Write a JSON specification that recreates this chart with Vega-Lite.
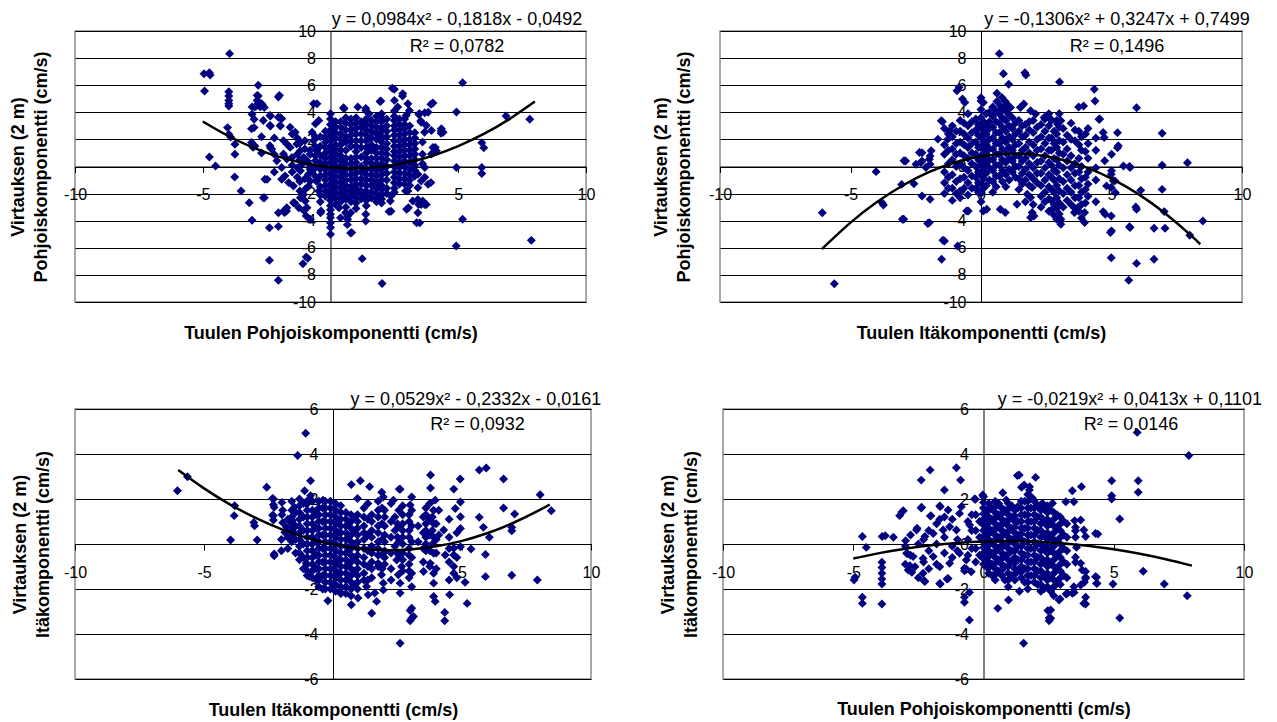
{
"$schema": "https://vega.github.io/schema/vega-lite/v6.json",
"background": "white",
"padding": {"left": 8, "top": 10, "right": 5, "bottom": 0},
"config": {
  "view": {"stroke": "#8c8c8c", "strokeWidth": 1.5},
  "font": "Liberation Sans",
  "axis": {"labelFont": "Liberation Sans", "labelFontSize": 16, "labelColor": "#000", "tickColor": "#000", "domainColor": "#000", "gridColor": "#000", "gridOpacity": 1, "gridWidth": 1, "tickWidth": 1, "domainWidth": 1, "titleFont": "Liberation Sans", "titleFontSize": 18, "titleFontWeight": "bold", "titleColor": "#000", "labelOverlap": false, "labelFlush": false, "labelBound": false}
},
"datasets": {
"tl": [
{"x":-3.95,"y":8.33},{"x":-4.95,"y":6.85},{"x":-4.74,"y":6.92},{"x":-4.71,"y":6.75},{"x":-4.93,"y":5.57},{"x":-3.98,"y":5.52},{"x":-3.98,"y":5.2},{"x":-3.98,"y":4.88},{"x":-3.98,"y":4.64},{"x":-3.98,"y":4.47},{"x":-2.83,"y":6.0},{"x":-2.83,"y":5.2},{"x":-3.07,"y":4.4},{"x":-2.91,"y":4.47},{"x":-2.75,"y":4.4},{"x":-2.59,"y":4.35},{"x":-2.67,"y":4.55},{"x":-3.07,"y":3.85},{"x":-2.99,"y":3.48},{"x":-2.99,"y":2.87},{"x":-2.35,"y":3.73},{"x":-2.35,"y":2.99},{"x":-2.04,"y":5.13},{"x":-1.96,"y":3.6},{"x":-1.96,"y":2.99},{"x":-4.03,"y":2.87},{"x":-3.98,"y":2.38},{"x":-3.91,"y":2.18},{"x":-3.74,"y":1.64},{"x":-3.74,"y":0.9},{"x":-4.74,"y":0.7},{"x":-4.5,"y":0.04},{"x":-3.75,"y":-0.77},{"x":-3.5,"y":-1.81},{"x":-3.18,"y":-2.67},{"x":-3.07,"y":-3.97},{"x":-2.59,"y":-2.3},{"x":-2.48,"y":-0.95},{"x":-2.35,"y":1.39},{"x":-2.96,"y":1.51},{"x":-2.39,"y":-4.52},{"x":-2.04,"y":-4.42},{"x":-2.39,"y":-6.92},{"x":-2.04,"y":-8.4},{"x":-1.08,"y":-7.17},{"x":-0.95,"y":-6.68},{"x":-0.89,"y":-6.78},{"x":1.24,"y":-6.8},{"x":2.02,"y":-8.64},
{"x":4.93,"y":4.02},{"x":5.17,"y":6.19},{"x":4.93,"y":-0.08},{"x":5.17,"y":-3.9},{"x":4.92,"y":-5.87},{"x":5.92,"y":1.76},{"x":6.0,"y":1.39},{"x":5.92,"y":-0.08},{"x":5.92,"y":-0.52},{"x":6.87,"y":3.73},{"x":7.8,"y":3.48},{"x":7.86,"y":-5.45},{"x":4.33,"y":2.62},{"x":4.33,"y":2.45},{"x":4.1,"y":1.4},{"x":3.93,"y":4.59},{"x":3.69,"y":3.97},{"x":2.82,"y":5.2},{"x":2.42,"y":5.77},{"x":3.45,"y":3.85},{"x":3.53,"y":3.36},{"x":3.61,"y":-2.55},{"x":3.69,"y":-2.8},{"x":3.45,"y":-2.8},{"x":3.37,"y":-4.15},{"x":2.94,"y":-1.8},{"x":2.98,"y":-3.16},{"x":3.05,"y":-3.04},{"x":2.29,"y":-3.33},{"x":3.93,"y":-1.19},{"x":3.69,"y":-0.08},{"x":3.69,"y":-0.8},{"x":1.38,"y":-4.02},{"x":1.38,"y":-3.53},{"x":0.83,"y":-4.88},{"x":0.67,"y":-3.65},{"x":0.67,"y":-3.9},
{"x":0,"y":-5.0},{"x":0,"y":-4.5},{"x":0,"y":-4.15},{"x":0,"y":-3.78},{"x":0,"y":-3.53},{"x":0,"y":-3.2},{"x":0,"y":-2.9},{"x":0,"y":-2.5},{"x":0,"y":-2.1},{"x":0,"y":-1.7},{"x":0,"y":-1.3},{"x":0,"y":-0.9},{"x":0,"y":-0.5},{"x":0,"y":-0.1},{"x":0,"y":0.3},{"x":0,"y":0.7},{"x":0,"y":1.1},{"x":0,"y":1.5},{"x":0,"y":1.9},{"x":0,"y":2.3},{"x":0,"y":2.7},{"x":0,"y":3.1},{"x":0,"y":3.5},{"x":0,"y":3.89},
{"x":-0.37,"y":-3.28},{"x":-0.56,"y":-1.07},{"x":-1.24,"y":-3.04},{"x":-1.05,"y":-3.24},{"x":-1.72,"y":-3.28},{"x":-1.8,"y":-3.4},{"x":-1.4,"y":-2.7},{"x":-0.95,"y":-3.65},{"x":0.51,"y":4.34},{"x":1.07,"y":4.39},{"x":1.38,"y":4.29},{"x":1.94,"y":4.79},{"x":2.5,"y":5.7},
{"x":-2.87,"y":5.25},{"x":-2.87,"y":4.88},{"x":-2.96,"y":4.39},{"x":-2.7,"y":4.63},{"x":-2.0,"y":5.25},{"x":-2.37,"y":3.77},{"x":-2.04,"y":3.64},{"x":-1.91,"y":3.52},{"x":-2.37,"y":3.02},{"x":-1.97,"y":3.02},{"x":-2.63,"y":3.39},{"x":-1.58,"y":2.9},{"x":-1.38,"y":2.53},{"x":-3.09,"y":2.78},{"x":-3.09,"y":1.78},{"x":-3.03,"y":1.41},{"x":-2.37,"y":1.54},{"x":-2.3,"y":1.29},{"x":-1.84,"y":1.91},{"x":-1.71,"y":1.66},{"x":-1.58,"y":1.41},{"x":-1.84,"y":0.92},{"x":-1.71,"y":0.55},{"x":-1.51,"y":0.67},{"x":-1.32,"y":1.66},{"x":-1.18,"y":1.16},{"x":-1.05,"y":0.67},{"x":-2.1,"y":0.42},{"x":-1.91,"y":-0.07},{"x":-1.78,"y":-0.69},{"x":-1.64,"y":-1.19},{"x":-1.91,"y":-0.94},{"x":-1.45,"y":-1.44},{"x":-2.57,"y":-0.94},{"x":-2.63,"y":-2.3},{"x":-2.04,"y":-3.42},{"x":-1.84,"y":-3.3},{"x":-1.71,"y":-3.05},{"x":-1.45,"y":-2.68},{"x":-1.18,"y":-2.3},{"x":-1.05,"y":-2.06},{"x":-0.99,"y":-2.55},{"x":-0.92,"y":-3.05},{"x":-0.79,"y":-3.91},{"x":-0.39,"y":-3.42},{"x":-0.59,"y":3.15},{"x":-0.46,"y":3.39},{"x":-0.53,"y":4.63},{"x":-0.66,"y":4.63},{"x":-0.72,"y":2.53},{"x":-0.66,"y":1.91},{"x":-0.53,"y":1.16},{"x":-0.59,"y":0.42},{"x":-0.72,"y":-0.32},{"x":-0.79,"y":-1.07},{"x":-0.86,"y":-1.44},{"x":-0.53,"y":-1.07},{"x":-0.46,"y":-1.81},{"x":-1.12,"y":0.17},{"x":-0.92,"y":0.42},{"x":-0.86,"y":-0.57},{"x":-1.18,"y":-0.32},{"x":0.53,"y":4.26},{"x":1.38,"y":4.14},{"x":1.51,"y":3.89},{"x":1.97,"y":4.83},{"x":2.83,"y":5.38},{"x":2.5,"y":4.88},{"x":2.63,"y":4.39},{"x":3.03,"y":4.63},{"x":3.09,"y":4.14},{"x":2.96,"y":3.77},{"x":3.49,"y":3.89},{"x":3.82,"y":4.01},{"x":4.01,"y":4.68},{"x":3.55,"y":3.27},{"x":3.75,"y":3.02},{"x":3.95,"y":2.65},{"x":3.68,"y":2.53},{"x":4.34,"y":2.78},{"x":4.41,"y":2.53},{"x":4.01,"y":1.41},{"x":4.14,"y":1.16},{"x":3.95,"y":0.92},{"x":3.42,"y":-0.57},{"x":3.55,"y":-1.07},{"x":3.42,"y":-1.56},{"x":3.82,"y":-1.31},{"x":3.03,"y":-1.81},{"x":3.22,"y":-2.55},{"x":3.42,"y":-2.43},{"x":3.55,"y":-2.8},{"x":3.42,"y":-3.42},{"x":3.75,"y":-2.8},{"x":3.49,"y":-4.16},{"x":2.37,"y":-3.3},{"x":2.34,"y":-2.55},{"x":2.37,"y":-2.18},{"x":0.79,"y":-4.91},{"x":0.66,"y":-4.29},{"x":0.39,"y":-3.79},{"x":0.59,"y":-3.42},{"x":0.79,"y":-3.42},{"x":0.33,"y":-3.05},
{"x":-0.2,"y":2.6},{"x":-0.2,"y":1.8},{"x":-0.2,"y":1.0},{"x":-0.2,"y":0.2},{"x":-0.2,"y":-0.6},{"x":-0.2,"y":-1.4},{"x":-0.2,"y":-2.2},{"x":-0.4,"y":2.2},{"x":-0.4,"y":0.8},{"x":-0.4,"y":-0.2},{"x":-0.4,"y":-2.6},
{"x":0.2,"y":3.3},{"x":0.2,"y":2.5},{"x":0.2,"y":1.6},{"x":0.2,"y":0.9},{"x":0.2,"y":0.1},{"x":0.2,"y":-0.7},{"x":0.2,"y":-1.5},{"x":0.2,"y":-2.3},{"x":0.2,"y":-2.8},
{"x":0.4,"y":2.9},{"x":0.4,"y":2.0},{"x":0.4,"y":1.2},{"x":0.4,"y":0.4},{"x":0.4,"y":-0.4},{"x":0.4,"y":-1.2},{"x":0.4,"y":-2.0},{"x":0.4,"y":-2.6},
{"x":0.6,"y":3.6},{"x":0.6,"y":2.7},{"x":0.6,"y":1.8},{"x":0.6,"y":0.6},{"x":0.6,"y":-0.2},{"x":0.6,"y":-1.0},{"x":0.6,"y":-1.8},{"x":0.6,"y":-2.4},{"x":0.6,"y":-3.0},
{"x":0.8,"y":3.1},{"x":0.8,"y":2.3},{"x":0.8,"y":1.5},{"x":0.8,"y":0.2},{"x":0.8,"y":-0.6},{"x":0.8,"y":-1.5},{"x":0.8,"y":-2.2},
{"x":1.0,"y":3.6},{"x":1.0,"y":2.8},{"x":1.0,"y":1.9},{"x":1.0,"y":1.1},{"x":1.0,"y":0.3},{"x":1.0,"y":-0.5},{"x":1.0,"y":-1.3},{"x":1.0,"y":-2.0},{"x":1.0,"y":-2.7},{"x":1.0,"y":-3.1},
{"x":1.2,"y":3.3},{"x":1.2,"y":2.4},{"x":1.2,"y":1.4},{"x":1.2,"y":0.0},{"x":1.2,"y":-0.9},{"x":1.2,"y":-1.8},{"x":1.2,"y":-2.4},
{"x":1.4,"y":3.5},{"x":1.4,"y":2.7},{"x":1.4,"y":1.9},{"x":1.4,"y":1.0},{"x":1.4,"y":0.3},{"x":1.4,"y":-0.6},{"x":1.4,"y":-1.4},{"x":1.4,"y":-2.2},{"x":1.4,"y":-2.9},
{"x":1.6,"y":3.0},{"x":1.6,"y":2.1},{"x":1.6,"y":1.2},{"x":1.6,"y":-0.2},{"x":1.6,"y":-1.0},{"x":1.6,"y":-1.9},
{"x":1.8,"y":3.7},{"x":1.8,"y":2.9},{"x":1.8,"y":2.0},{"x":1.8,"y":1.4},{"x":1.8,"y":0.6},{"x":1.8,"y":-0.3},{"x":1.8,"y":-1.2},{"x":1.8,"y":-2.0},{"x":1.8,"y":-2.6},
{"x":2.0,"y":3.9},{"x":2.0,"y":3.3},{"x":2.0,"y":2.6},{"x":2.0,"y":1.8},{"x":2.0,"y":1.0},{"x":2.0,"y":0.2},{"x":2.0,"y":-0.6},{"x":2.0,"y":-1.4},{"x":2.0,"y":-2.1},{"x":2.0,"y":-2.7},
{"x":2.2,"y":3.0},{"x":2.2,"y":2.2},{"x":2.2,"y":1.3},{"x":2.2,"y":0.5},{"x":2.2,"y":-0.5},{"x":2.2,"y":-1.6},
{"x":2.5,"y":4.1},{"x":2.5,"y":3.4},{"x":2.5,"y":2.7},{"x":2.5,"y":1.9},{"x":2.5,"y":1.1},{"x":2.5,"y":0.4},{"x":2.5,"y":-0.4},{"x":2.5,"y":-1.2},{"x":2.5,"y":-1.9},
{"x":2.7,"y":3.1},{"x":2.7,"y":2.3},{"x":2.7,"y":1.5},{"x":2.7,"y":0.7},{"x":2.7,"y":-0.1},{"x":2.7,"y":-0.9},
{"x":2.9,"y":3.5},{"x":2.9,"y":2.8},{"x":2.9,"y":2.0},{"x":2.9,"y":1.2},{"x":2.9,"y":0.4},{"x":2.9,"y":-0.5},{"x":2.9,"y":-1.3},
{"x":3.1,"y":2.5},{"x":3.1,"y":1.6},{"x":3.1,"y":0.8},{"x":3.1,"y":-0.2},{"x":3.1,"y":-1.0},
{"x":3.3,"y":2.1},{"x":3.3,"y":1.3},{"x":3.3,"y":0.5},{"x":3.3,"y":-0.3},{"x":3.6,"y":1.8},{"x":3.6,"y":0.9},{"x":3.6,"y":0.2},
{"x":-1.0,"y":1.9},{"x":-1.0,"y":1.3},{"x":-1.0,"y":-0.9},{"x":-1.0,"y":-1.7},{"x":-1.3,"y":0.9},{"x":-1.3,"y":-0.1},{"x":-1.3,"y":-0.8},{"x":-1.3,"y":2.1},{"x":-1.5,"y":2.4},{"x":-1.5,"y":0.1},{"x":-1.5,"y":-0.4},{"x":-2.2,"y":2.1},{"x":-2.2,"y":0.9},{"x":-2.2,"y":-0.4},{"x":-2.7,"y":1.0},{"x":-2.7,"y":2.2},
{"x":-0.2,"y":2.2},{"x":-0.2,"y":1.4},{"x":-0.2,"y":0.6},{"x":-0.2,"y":-0.2},{"x":-0.2,"y":-1.0},{"x":-0.2,"y":-1.8},
{"x":0.2,"y":2.9},{"x":0.2,"y":2.1},{"x":0.2,"y":1.3},{"x":0.2,"y":0.5},{"x":0.2,"y":-0.3},{"x":0.2,"y":-1.1},{"x":0.2,"y":-1.9},
{"x":0.4,"y":3.3},{"x":0.4,"y":2.4},{"x":0.4,"y":1.6},{"x":0.4,"y":0.8},{"x":0.4,"y":0.0},{"x":0.4,"y":-0.8},{"x":0.4,"y":-1.6},{"x":0.4,"y":-2.3},
{"x":0.6,"y":3.2},{"x":0.6,"y":2.2},{"x":0.6,"y":1.2},{"x":0.6,"y":0.2},{"x":0.6,"y":-0.6},{"x":0.6,"y":-1.4},{"x":0.6,"y":-2.1},
{"x":0.8,"y":3.5},{"x":0.8,"y":2.7},{"x":0.8,"y":1.9},{"x":0.8,"y":0.6},{"x":0.8,"y":-0.2},{"x":0.8,"y":-1.0},{"x":0.8,"y":-1.8},{"x":0.8,"y":-2.6},
{"x":1.0,"y":3.2},{"x":1.0,"y":2.4},{"x":1.0,"y":1.5},{"x":1.0,"y":0.7},{"x":1.0,"y":-0.1},{"x":1.0,"y":-0.9},{"x":1.0,"y":-1.6},{"x":1.0,"y":-2.3},
{"x":1.2,"y":2.9},{"x":1.2,"y":1.9},{"x":1.2,"y":0.7},{"x":1.2,"y":-0.4},{"x":1.2,"y":-1.3},{"x":1.2,"y":-2.0},
{"x":1.4,"y":3.1},{"x":1.4,"y":2.3},{"x":1.4,"y":1.4},{"x":1.4,"y":0.6},{"x":1.4,"y":-0.2},{"x":1.4,"y":-1.0},{"x":1.4,"y":-1.8},{"x":1.4,"y":-2.5},
{"x":1.6,"y":3.4},{"x":1.6,"y":2.6},{"x":1.6,"y":1.6},{"x":1.6,"y":0.6},{"x":1.6,"y":0.2},{"x":1.6,"y":-0.6},{"x":1.6,"y":-1.4},{"x":1.6,"y":-2.3},
{"x":1.8,"y":3.3},{"x":1.8,"y":2.4},{"x":1.8,"y":1.0},{"x":1.8,"y":0.2},{"x":1.8,"y":-0.7},{"x":1.8,"y":-1.6},{"x":1.8,"y":-2.3},
{"x":2.0,"y":3.6},{"x":2.0,"y":2.9},{"x":2.0,"y":2.2},{"x":2.0,"y":1.4},{"x":2.0,"y":0.6},{"x":2.0,"y":-0.2},{"x":2.0,"y":-1.0},{"x":2.0,"y":-1.7},{"x":2.0,"y":-2.4},
{"x":2.2,"y":3.5},{"x":2.2,"y":2.6},{"x":2.2,"y":1.7},{"x":2.2,"y":0.9},{"x":2.2,"y":0.0},{"x":2.2,"y":-1.0},{"x":2.2,"y":-2.0},
{"x":2.5,"y":3.7},{"x":2.5,"y":3.0},{"x":2.5,"y":2.3},{"x":2.5,"y":1.5},{"x":2.5,"y":0.8},{"x":2.5,"y":0.0},{"x":2.5,"y":-0.8},{"x":2.5,"y":-1.6},
{"x":2.7,"y":3.5},{"x":2.7,"y":2.7},{"x":2.7,"y":1.9},{"x":2.7,"y":1.1},{"x":2.7,"y":0.3},{"x":2.7,"y":-0.5},{"x":2.7,"y":-1.3},
{"x":2.9,"y":3.1},{"x":2.9,"y":2.4},{"x":2.9,"y":1.6},{"x":2.9,"y":0.8},{"x":2.9,"y":0.0},{"x":2.9,"y":-0.9},
{"x":3.1,"y":3.0},{"x":3.1,"y":2.0},{"x":3.1,"y":1.2},{"x":3.1,"y":0.3},{"x":3.1,"y":-0.6},{"x":3.1,"y":-1.4},
{"x":3.3,"y":2.5},{"x":3.3,"y":1.7},{"x":3.3,"y":0.9},{"x":3.3,"y":0.1},{"x":3.3,"y":-0.7},
{"x":-0.4,"y":1.5},{"x":-0.4,"y":0.3},{"x":-0.4,"y":-0.7},{"x":-0.4,"y":-1.5},{"x":-0.4,"y":-2.1},{"x":-0.6,"y":0.8},{"x":-0.6,"y":-0.1},{"x":-0.6,"y":-0.7},{"x":-0.6,"y":1.5},{"x":-0.6,"y":2.2},{"x":-0.8,"y":1.2},{"x":-0.8,"y":0.1},{"x":-0.8,"y":0.9},{"x":-0.8,"y":-0.2},{"x":-1.2,"y":1.7},{"x":-1.2,"y":0.5},{"x":-1.2,"y":-1.1},{"x":-1.2,"y":-1.8}
],
"tlfit": [{"x":-5,"y":3.32},{"x":-4,"y":2.25},{"x":-3,"y":1.38},{"x":-2,"y":0.708},{"x":-1,"y":0.231},{"x":0,"y":-0.049},{"x":1,"y":-0.133},{"x":2,"y":-0.019},{"x":3,"y":0.291},{"x":4,"y":0.798},{"x":5,"y":1.502},{"x":6,"y":2.402},{"x":7,"y":3.5},{"x":8,"y":4.794}],
"tleq": [{"eq":"y = 0,0984x² - 0,1818x - 0,0492","r2":"R² = 0,0782"}],
"tr": [
{"x":-6.08,"y":-3.41},{"x":-5.62,"y":-8.65},{"x":-4.02,"y":-0.38},{"x":-3.79,"y":-2.67},{"x":-3.74,"y":-2.84},{"x":-2.96,"y":-3.9},{"x":-2.89,"y":0.41},{"x":-2.57,"y":-1.27},{"x":-3.04,"y":-1.32},{"x":-2.26,"y":1.02},{"x":-2.26,"y":0.41},{"x":-1.95,"y":0.77},{"x":-1.95,"y":0.16},{"x":-2.26,"y":-2.18},{"x":-1.95,"y":-2.42},{"x":-1.98,"y":-4.14},{"x":-1.48,"y":3.31},{"x":-1.4,"y":-5.5},{"x":-1.51,"y":-6.85},{"x":-0.89,"y":-5.87},{"x":-0.55,"y":-3.28},{"x":0,"y":5.08},{"x":0,"y":4.84},{"x":0.7,"y":8.33},{"x":0.86,"y":6.85},{"x":1.06,"y":6.07},{"x":1.68,"y":6.92},{"x":1.72,"y":6.75},{"x":3.01,"y":6.24},{"x":4.34,"y":5.7},{"x":4.37,"y":4.84},{"x":3.74,"y":4.39},{"x":3.93,"y":4.47},{"x":4.52,"y":3.48},{"x":5.23,"y":2.5},{"x":5.96,"y":4.34},{"x":6.94,"y":2.45},{"x":6.94,"y":0.09},{"x":7.91,"y":0.28},{"x":5.46,"y":0.04},{"x":5.69,"y":0.01},{"x":6.12,"y":-1.76},{"x":6.94,"y":-1.69},{"x":5.93,"y":-2.99},{"x":5.96,"y":-3.16},{"x":7.02,"y":-3.33},{"x":8.5,"y":-4.02},{"x":8.0,"y":-5.08},{"x":5.69,"y":-4.44},{"x":6.63,"y":-4.56},{"x":7.05,"y":-4.56},{"x":4.96,"y":-4.88},{"x":4.99,"y":-6.73},{"x":5.96,"y":-7.15},{"x":6.63,"y":-6.85},{"x":5.66,"y":-8.4},{"x":4.68,"y":-3.33},{"x":4.99,"y":-3.65},{"x":4.76,"y":-3.53},{"x":5.23,"y":1.39},{"x":4.99,"y":-0.58},{"x":5.07,"y":-1.06},{"x":4.99,"y":-1.55},{"x":5.15,"y":-1.93},
{"x":-0.92,"y":5.59},{"x":-0.84,"y":5.84},{"x":-0.71,"y":4.98},{"x":-0.62,"y":4.73},{"x":0.09,"y":4.73},{"x":0.61,"y":5.4},{"x":0.8,"y":5.1},{"x":0.93,"y":4.8},{"x":0.61,"y":4.8},{"x":0.76,"y":4.45},{"x":1.0,"y":4.6},{"x":1.13,"y":4.35},{"x":0.67,"y":4.05},{"x":1.51,"y":4.36},{"x":1.64,"y":4.61},{"x":1.9,"y":4.11},{"x":2.09,"y":3.87},{"x":2.42,"y":3.62},{"x":2.67,"y":3.5},{"x":2.93,"y":3.13},{"x":3.06,"y":3.37},{"x":4.55,"y":3.5},{"x":4.68,"y":2.51},{"x":4.72,"y":2.14},{"x":5.26,"y":1.53},{"x":5.0,"y":0.91},{"x":4.74,"y":0.42},{"x":5.0,"y":-0.32},{"x":5.13,"y":-1.06},{"x":4.81,"y":-1.43},{"x":5.71,"y":-0.07},{"x":-1.52,"y":3.37},{"x":-1.27,"y":2.02},{"x":-1.65,"y":2.02},{"x":-1.2,"y":2.64},{"x":-2.36,"y":1.03},{"x":-2.3,"y":0.3},{"x":-2.49,"y":0.17},{"x":-2.11,"y":-0.07},{"x":-1.98,"y":0.54},{"x":-1.91,"y":1.16},{"x":-2.95,"y":0.42},{"x":-3.01,"y":-3.89},{"x":-2.04,"y":-4.21},{"x":-1.46,"y":-5.44},{"x":-0.49,"y":-3.28},{"x":0.09,"y":-3.28},{"x":0.22,"y":-3.15},{"x":0.74,"y":-3.15},{"x":0.93,"y":-3.4},{"x":1.38,"y":-2.78},{"x":1.77,"y":-2.04},{"x":1.9,"y":-2.29},{"x":1.96,"y":-1.55},{"x":1.96,"y":-3.4},{"x":2.03,"y":-3.65},{"x":1.9,"y":-3.77},{"x":3.06,"y":-4.26},{"x":3.06,"y":-3.89},{"x":3.58,"y":-3.4},{"x":3.97,"y":-4.14},{"x":3.97,"y":-3.4},{"x":3.71,"y":-3.03},{"x":5.0,"y":-4.75},{"x":5.71,"y":-4.51},
{"x":-1.4,"y":2.8},{"x":-1.4,"y":1.6},{"x":-1.4,"y":0.9},{"x":-1.4,"y":-0.4},{"x":-1.4,"y":-1.2},{"x":-1.4,"y":-2.0},
{"x":-1.1,"y":3.0},{"x":-1.1,"y":2.2},{"x":-1.1,"y":1.3},{"x":-1.1,"y":0.5},{"x":-1.1,"y":-0.6},{"x":-1.1,"y":-1.6},{"x":-1.1,"y":-2.5},
{"x":-0.8,"y":3.4},{"x":-0.8,"y":2.6},{"x":-0.8,"y":1.8},{"x":-0.8,"y":1.0},{"x":-0.8,"y":0.2},{"x":-0.8,"y":-0.9},{"x":-0.8,"y":-1.8},{"x":-0.8,"y":-2.3},
{"x":-0.5,"y":3.9},{"x":-0.5,"y":3.0},{"x":-0.5,"y":2.1},{"x":-0.5,"y":1.4},{"x":-0.5,"y":0.6},{"x":-0.5,"y":-0.3},{"x":-0.5,"y":-1.2},{"x":-0.5,"y":-2.1},
{"x":-0.2,"y":3.5},{"x":-0.2,"y":2.7},{"x":-0.2,"y":1.8},{"x":-0.2,"y":0.9},{"x":-0.2,"y":0.0},{"x":-0.2,"y":-0.8},{"x":-0.2,"y":-1.6},
{"x":0,"y":4.2},{"x":0,"y":3.6},{"x":0,"y":2.9},{"x":0,"y":2.2},{"x":0,"y":1.5},{"x":0,"y":0.8},{"x":0,"y":0.1},{"x":0,"y":-0.6},{"x":0,"y":-1.3},{"x":0,"y":-2.0},{"x":0,"y":-2.6},
{"x":0.2,"y":3.9},{"x":0.2,"y":3.1},{"x":0.2,"y":2.4},{"x":0.2,"y":1.6},{"x":0.2,"y":0.9},{"x":0.2,"y":0.2},{"x":0.2,"y":-0.5},{"x":0.2,"y":-1.4},
{"x":0.45,"y":4.4},{"x":0.45,"y":3.7},{"x":0.45,"y":2.9},{"x":0.45,"y":2.1},{"x":0.45,"y":1.3},{"x":0.45,"y":0.5},{"x":0.45,"y":-0.3},{"x":0.45,"y":-1.1},{"x":0.45,"y":-1.9},
{"x":0.7,"y":3.9},{"x":0.7,"y":3.2},{"x":0.7,"y":2.5},{"x":0.7,"y":1.7},{"x":0.7,"y":0.9},{"x":0.7,"y":0.1},{"x":0.7,"y":-0.7},
{"x":0.95,"y":4.1},{"x":0.95,"y":3.4},{"x":0.95,"y":2.6},{"x":0.95,"y":1.8},{"x":0.95,"y":1.0},{"x":0.95,"y":0.3},{"x":0.95,"y":-0.6},{"x":0.95,"y":-1.5},
{"x":1.2,"y":3.6},{"x":1.2,"y":2.8},{"x":1.2,"y":2.0},{"x":1.2,"y":1.2},{"x":1.2,"y":0.4},{"x":1.2,"y":-0.4},
{"x":1.45,"y":3.4},{"x":1.45,"y":2.6},{"x":1.45,"y":1.7},{"x":1.45,"y":0.8},{"x":1.45,"y":0.0},{"x":1.45,"y":-0.9},{"x":1.45,"y":-1.7},
{"x":1.7,"y":3.1},{"x":1.7,"y":2.3},{"x":1.7,"y":1.4},{"x":1.7,"y":0.6},{"x":1.7,"y":-0.2},{"x":1.7,"y":-1.0},{"x":1.7,"y":-2.6},
{"x":2.0,"y":3.4},{"x":2.0,"y":2.5},{"x":2.0,"y":1.6},{"x":2.0,"y":0.8},{"x":2.0,"y":-0.1},{"x":2.0,"y":-0.9},{"x":2.0,"y":-2.8},
{"x":2.3,"y":3.1},{"x":2.3,"y":2.2},{"x":2.3,"y":1.3},{"x":2.3,"y":0.4},{"x":2.3,"y":-0.5},{"x":2.3,"y":-1.4},{"x":2.3,"y":-2.2},{"x":2.3,"y":-3.0},
{"x":2.6,"y":3.9},{"x":2.6,"y":3.0},{"x":2.6,"y":2.1},{"x":2.6,"y":1.2},{"x":2.6,"y":0.3},{"x":2.6,"y":-0.6},{"x":2.6,"y":-1.5},{"x":2.6,"y":-2.4},{"x":2.6,"y":-3.3},
{"x":2.8,"y":2.6},{"x":2.8,"y":1.7},{"x":2.8,"y":0.6},{"x":2.8,"y":-0.3},{"x":2.8,"y":-1.0},{"x":2.8,"y":-1.9},{"x":2.8,"y":-2.8},{"x":2.8,"y":-3.6},
{"x":3.0,"y":3.9},{"x":3.0,"y":2.9},{"x":3.0,"y":1.9},{"x":3.0,"y":1.0},{"x":3.0,"y":0.1},{"x":3.0,"y":-0.9},{"x":3.0,"y":-1.8},{"x":3.0,"y":-2.7},{"x":3.0,"y":-3.5},
{"x":3.3,"y":2.3},{"x":3.3,"y":1.3},{"x":3.3,"y":0.4},{"x":3.3,"y":-0.6},{"x":3.3,"y":-1.6},{"x":3.3,"y":-2.5},
{"x":3.6,"y":2.7},{"x":3.6,"y":1.9},{"x":3.6,"y":0.2},{"x":3.6,"y":-0.5},{"x":3.6,"y":-1.4},{"x":3.6,"y":-2.3},{"x":3.6,"y":-3.1},
{"x":3.85,"y":2.2},{"x":3.85,"y":1.2},{"x":3.85,"y":0.0},{"x":3.85,"y":-0.9},{"x":3.85,"y":-1.9},{"x":3.85,"y":-2.8},{"x":3.85,"y":-3.8},
{"x":4.1,"y":2.8},{"x":4.1,"y":1.7},{"x":4.1,"y":0.6},{"x":4.1,"y":-0.4},{"x":4.1,"y":-1.3},{"x":4.1,"y":-2.2},
{"x":4.4,"y":2.1},{"x":4.4,"y":1.2},{"x":4.4,"y":-0.1},{"x":4.4,"y":-1.0},{"x":4.4,"y":-2.6},
{"x":-1.25,"y":2.4},{"x":-1.25,"y":1.2},{"x":-1.25,"y":0.2},{"x":-1.25,"y":-0.8},{"x":-1.25,"y":-1.6},
{"x":-0.95,"y":2.6},{"x":-0.95,"y":1.7},{"x":-0.95,"y":0.9},{"x":-0.95,"y":0.0},{"x":-0.95,"y":-1.1},{"x":-0.95,"y":-2.0},
{"x":-0.65,"y":3.2},{"x":-0.65,"y":2.4},{"x":-0.65,"y":1.6},{"x":-0.65,"y":0.8},{"x":-0.65,"y":-0.1},{"x":-0.65,"y":-0.8},{"x":-0.65,"y":-1.6},
{"x":-0.35,"y":3.3},{"x":-0.35,"y":2.5},{"x":-0.35,"y":1.7},{"x":-0.35,"y":1.0},{"x":-0.35,"y":0.2},{"x":-0.35,"y":-0.7},{"x":-0.35,"y":-1.6},
{"x":-0.1,"y":3.1},{"x":-0.1,"y":2.3},{"x":-0.1,"y":1.4},{"x":-0.1,"y":0.5},{"x":-0.1,"y":-0.4},{"x":-0.1,"y":-1.2},{"x":-0.1,"y":-1.9},
{"x":0.1,"y":3.3},{"x":0.1,"y":2.6},{"x":0.1,"y":1.9},{"x":0.1,"y":1.2},{"x":0.1,"y":0.5},{"x":0.1,"y":-0.2},{"x":0.1,"y":-0.9},{"x":0.1,"y":-1.6},
{"x":0.32,"y":4.0},{"x":0.32,"y":3.3},{"x":0.32,"y":2.8},{"x":0.32,"y":2.0},{"x":0.32,"y":1.3},{"x":0.32,"y":0.5},{"x":0.32,"y":-0.1},{"x":0.32,"y":-1.0},
{"x":0.58,"y":4.1},{"x":0.58,"y":3.3},{"x":0.58,"y":2.5},{"x":0.58,"y":1.7},{"x":0.58,"y":0.9},{"x":0.58,"y":0.1},{"x":0.58,"y":-0.7},{"x":0.58,"y":-1.5},
{"x":0.82,"y":4.3},{"x":0.82,"y":3.6},{"x":0.82,"y":2.9},{"x":0.82,"y":2.1},{"x":0.82,"y":1.3},{"x":0.82,"y":0.5},{"x":0.82,"y":-0.3},{"x":0.82,"y":-1.1},
{"x":1.08,"y":3.8},{"x":1.08,"y":3.0},{"x":1.08,"y":2.2},{"x":1.08,"y":1.4},{"x":1.08,"y":0.6},{"x":1.08,"y":-0.2},{"x":1.08,"y":-1.0},
{"x":1.32,"y":3.2},{"x":1.32,"y":2.4},{"x":1.32,"y":1.6},{"x":1.32,"y":0.8},{"x":1.32,"y":0.0},{"x":1.32,"y":-0.8},
{"x":1.58,"y":3.0},{"x":1.58,"y":2.2},{"x":1.58,"y":1.2},{"x":1.58,"y":0.4},{"x":1.58,"y":-0.5},{"x":1.58,"y":-1.3},
{"x":1.85,"y":3.3},{"x":1.85,"y":2.7},{"x":1.85,"y":1.8},{"x":1.85,"y":1.0},{"x":1.85,"y":0.2},{"x":1.85,"y":-0.6},{"x":1.85,"y":-1.4},
{"x":2.15,"y":2.9},{"x":2.15,"y":2.0},{"x":2.15,"y":1.2},{"x":2.15,"y":0.3},{"x":2.15,"y":-0.5},{"x":2.15,"y":-1.2},
{"x":2.45,"y":3.5},{"x":2.45,"y":2.6},{"x":2.45,"y":1.7},{"x":2.45,"y":0.8},{"x":2.45,"y":-0.1},{"x":2.45,"y":-1.0},{"x":2.45,"y":-1.9},{"x":2.45,"y":-2.6},
{"x":2.7,"y":3.4},{"x":2.7,"y":2.1},{"x":2.7,"y":1.2},{"x":2.7,"y":0.1},{"x":2.7,"y":-0.8},{"x":2.7,"y":-1.7},{"x":2.7,"y":-2.5},{"x":2.7,"y":-3.2},
{"x":2.9,"y":3.4},{"x":2.9,"y":2.4},{"x":2.9,"y":1.4},{"x":2.9,"y":0.5},{"x":2.9,"y":-0.4},{"x":2.9,"y":-1.4},{"x":2.9,"y":-2.3},{"x":2.9,"y":-3.1},{"x":2.9,"y":-3.9},
{"x":3.15,"y":2.8},{"x":3.15,"y":1.8},{"x":3.15,"y":0.9},{"x":3.15,"y":-0.1},{"x":3.15,"y":-1.1},{"x":3.15,"y":-2.0},{"x":3.15,"y":-3.0},
{"x":3.45,"y":3.2},{"x":3.45,"y":2.0},{"x":3.45,"y":0.8},{"x":3.45,"y":-0.1},{"x":3.45,"y":-1.0},{"x":3.45,"y":-1.9},{"x":3.45,"y":-2.8},
{"x":3.75,"y":2.6},{"x":3.75,"y":1.6},{"x":3.75,"y":0.6},{"x":3.75,"y":-0.4},{"x":3.75,"y":-1.4},{"x":3.75,"y":-2.3},{"x":3.75,"y":-3.3},
{"x":4.0,"y":2.4},{"x":4.0,"y":1.1},{"x":4.0,"y":-0.8},{"x":4.0,"y":-1.7},{"x":4.0,"y":-2.7}
],
"trfit": [{"x":-6.1,"y":-6.091},{"x":-5,"y":-4.139},{"x":-4,"y":-2.638},{"x":-3,"y":-1.4},{"x":-2,"y":-0.422},{"x":-1,"y":0.295},{"x":0,"y":0.75},{"x":1,"y":0.944},{"x":2,"y":0.877},{"x":3,"y":0.549},{"x":4,"y":-0.041},{"x":5,"y":-0.892},{"x":6,"y":-2.003},{"x":7,"y":-3.377},{"x":8,"y":-5.011},{"x":8.4,"y":-5.738}],
"treq": [{"eq":"y = -0,1306x² + 0,3247x + 0,7499","r2":"R² = 0,1496"}],
"bl": [
{"x":-6.03,"y":2.37},{"x":-5.64,"y":2.99},{"x":-3.81,"y":1.7},{"x":-3.83,"y":1.26},{"x":-3.97,"y":0.18},{"x":-3.07,"y":0.96},{"x":-3.04,"y":0.81},{"x":-2.94,"y":0.18},{"x":-2.57,"y":2.52},{"x":-2.31,"y":2.0},{"x":-2.31,"y":1.75},{"x":-2.28,"y":1.63},{"x":-2.31,"y":1.26},{"x":-2.31,"y":1.07},{"x":-2.28,"y":-0.44},{"x":-2.28,"y":-0.52},{"x":-1.98,"y":1.85},{"x":-1.95,"y":1.5},{"x":-1.98,"y":1.3},{"x":-1.95,"y":0.95},{"x":-1.8,"y":0.74},{"x":-1.87,"y":0.52},{"x":-1.5,"y":1.63},{"x":-1.57,"y":1.04},{"x":-1.5,"y":0.74},{"x":-1.53,"y":0.52},{"x":-1.37,"y":3.93},{"x":-1.06,"y":4.92},{"x":-0.87,"y":2.81},{"x":-1.1,"y":2.37},{"x":-0.87,"y":2.15},{"x":-1.02,"y":1.78},{"x":-0.71,"y":1.41},{"x":-0.2,"y":-2.52},{"x":0.71,"y":-2.7},{"x":1.5,"y":-3.08},{"x":2.6,"y":-4.41},{"x":2.99,"y":-2.96},{"x":2.99,"y":-3.41},{"x":3.05,"y":-3.3},{"x":4.33,"y":-3.04},{"x":4.33,"y":-3.41},{"x":4.52,"y":-2.25},{"x":5.2,"y":-2.64},{"x":5.12,"y":-1.7},{"x":5.91,"y":-1.45},{"x":6.93,"y":-1.39},{"x":7.92,"y":-1.6},{"x":5.91,"y":-0.47},{"x":5.83,"y":0.74},{"x":6.06,"y":0.3},{"x":6.93,"y":0.74},{"x":6.93,"y":0.59},{"x":6.61,"y":1.6},{"x":7.04,"y":1.33},{"x":8.03,"y":2.19},{"x":8.46,"y":1.48},{"x":5.67,"y":3.29},{"x":5.94,"y":3.38},{"x":6.61,"y":2.89},{"x":4.93,"y":2.89},{"x":4.68,"y":2.44},{"x":3.78,"y":3.07},{"x":3.78,"y":2.49},{"x":5.67,"y":1.19},{"x":5.35,"y":-0.22},{"x":0.71,"y":2.64},{"x":1.06,"y":2.81},{"x":1.42,"y":2.55},{"x":2.57,"y":2.44},{"x":1.89,"y":2.3},
{"x":-2.34,"y":2.02},{"x":-2.34,"y":1.28},{"x":-0.97,"y":1.95},{"x":-0.39,"y":1.95},{"x":0.95,"y":2.02},{"x":1.95,"y":2.09},{"x":2.34,"y":1.95},{"x":2.6,"y":2.43},{"x":3.05,"y":2.09},{"x":2.99,"y":1.73},{"x":3.96,"y":1.95},{"x":3.9,"y":1.5},{"x":4.94,"y":1.87},{"x":4.74,"y":1.58},{"x":4.94,"y":1.21},{"x":4.94,"y":0.69},{"x":4.29,"y":0.62},{"x":4.35,"y":-0.49},{"x":4.68,"y":-0.19},{"x":4.68,"y":-0.49},{"x":4.68,"y":-1.0},{"x":4.68,"y":-1.3},{"x":4.94,"y":-0.12},{"x":3.9,"y":-1.74},{"x":3.9,"y":-2.33},{"x":3.96,"y":-2.55},{"x":3.9,"y":-1.3},{"x":3.77,"y":-0.86},{"x":3.9,"y":-0.41},{"x":3.51,"y":-1.22},{"x":3.05,"y":-2.85},{"x":3.12,"y":-3.22},{"x":2.6,"y":-2.18},{"x":2.6,"y":-1.74},{"x":2.53,"y":-1.37},{"x":2.66,"y":-1.0},{"x":2.47,"y":-0.71},{"x":1.95,"y":-2.04},{"x":1.95,"y":-1.74},{"x":1.88,"y":-1.37},{"x":1.75,"y":-0.86},{"x":1.95,"y":-0.41},{"x":1.69,"y":-2.55},{"x":1.62,"y":-2.18},{"x":1.36,"y":-2.26},{"x":1.3,"y":-1.89},{"x":0.97,"y":-2.4},{"x":0.32,"y":-2.18},{"x":0,"y":-1.96},{"x":-0.91,"y":-1.45},{"x":-1.04,"y":-0.86},{"x":-0.78,"y":-1.15},
{"x":-1.6,"y":1.9},{"x":-1.6,"y":1.2},{"x":-1.6,"y":0.6},{"x":-1.6,"y":0.1},
{"x":-1.3,"y":1.7},{"x":-1.3,"y":1.1},{"x":-1.3,"y":0.5},{"x":-1.3,"y":-0.1},{"x":-1.3,"y":-0.7},
{"x":-1.0,"y":1.5},{"x":-1.0,"y":0.9},{"x":-1.0,"y":0.3},{"x":-1.0,"y":-0.3},{"x":-1.0,"y":-0.9},{"x":-1.0,"y":-1.4},
{"x":-0.8,"y":1.9},{"x":-0.8,"y":1.2},{"x":-0.8,"y":0.6},{"x":-0.8,"y":0.0},{"x":-0.8,"y":-0.6},{"x":-0.8,"y":-1.2},
{"x":-0.55,"y":1.6},{"x":-0.55,"y":1.0},{"x":-0.55,"y":0.4},{"x":-0.55,"y":-0.2},{"x":-0.55,"y":-0.8},{"x":-0.55,"y":-1.4},{"x":-0.55,"y":-1.9},
{"x":-0.3,"y":1.9},{"x":-0.3,"y":1.3},{"x":-0.3,"y":0.7},{"x":-0.3,"y":0.1},{"x":-0.3,"y":-0.5},{"x":-0.3,"y":-1.1},{"x":-0.3,"y":-1.7},
{"x":-0.1,"y":1.6},{"x":-0.1,"y":1.0},{"x":-0.1,"y":0.4},{"x":-0.1,"y":-0.2},{"x":-0.1,"y":-0.8},{"x":-0.1,"y":-1.4},{"x":-0.1,"y":-2.0},
{"x":0.1,"y":1.8},{"x":0.1,"y":1.2},{"x":0.1,"y":0.6},{"x":0.1,"y":0.0},{"x":0.1,"y":-0.6},{"x":0.1,"y":-1.2},{"x":0.1,"y":-1.8},
{"x":0.3,"y":1.4},{"x":0.3,"y":0.8},{"x":0.3,"y":0.2},{"x":0.3,"y":-0.4},{"x":0.3,"y":-1.0},{"x":0.3,"y":-1.6},{"x":0.3,"y":-2.2},
{"x":0.5,"y":1.1},{"x":0.5,"y":0.5},{"x":0.5,"y":-0.1},{"x":0.5,"y":-0.7},{"x":0.5,"y":-1.3},{"x":0.5,"y":-1.9},
{"x":0.7,"y":1.3},{"x":0.7,"y":0.7},{"x":0.7,"y":0.1},{"x":0.7,"y":-0.5},{"x":0.7,"y":-1.1},{"x":0.7,"y":-1.7},{"x":0.7,"y":-2.3},
{"x":0.95,"y":1.0},{"x":0.95,"y":0.4},{"x":0.95,"y":-0.2},{"x":0.95,"y":-0.8},{"x":0.95,"y":-1.4},{"x":0.95,"y":-2.0},
{"x":1.2,"y":1.6},{"x":1.2,"y":0.8},{"x":1.2,"y":0.2},{"x":1.2,"y":-0.6},{"x":1.2,"y":-1.3},
{"x":1.5,"y":1.3},{"x":1.5,"y":0.6},{"x":1.5,"y":-0.1},{"x":1.5,"y":-0.8},{"x":1.5,"y":-1.5},
{"x":1.75,"y":1.9},{"x":1.75,"y":1.2},{"x":1.75,"y":0.5},{"x":1.75,"y":-0.2},
{"x":2.0,"y":1.5},{"x":2.0,"y":0.8},{"x":2.0,"y":0.1},{"x":2.0,"y":-0.6},
{"x":2.4,"y":1.2},{"x":2.4,"y":0.6},{"x":2.4,"y":-0.1},
{"x":2.7,"y":1.7},{"x":2.7,"y":0.9},{"x":2.7,"y":0.3},{"x":2.7,"y":-0.4},
{"x":2.95,"y":1.3},{"x":2.95,"y":0.6},{"x":2.95,"y":-0.2},{"x":2.95,"y":-0.9},{"x":2.95,"y":-1.5},
{"x":3.3,"y":0.8},{"x":3.3,"y":0.1},{"x":3.6,"y":1.6},{"x":3.6,"y":0.9},{"x":3.6,"y":0.3},{"x":3.6,"y":-0.3},{"x":3.85,"y":1.2},{"x":3.85,"y":0.6},{"x":3.85,"y":0.0},{"x":4.1,"y":1.5},{"x":4.1,"y":0.4},
{"x":-1.6,"y":1.5},{"x":-1.6,"y":0.9},{"x":-1.6,"y":0.4},
{"x":-1.45,"y":1.4},{"x":-1.45,"y":0.8},{"x":-1.45,"y":0.2},{"x":-1.45,"y":-0.4},
{"x":-1.3,"y":2.0},{"x":-1.3,"y":1.4},{"x":-1.3,"y":0.8},{"x":-1.3,"y":0.2},{"x":-1.3,"y":-0.4},
{"x":-1.15,"y":1.8},{"x":-1.15,"y":1.2},{"x":-1.15,"y":0.6},{"x":-1.15,"y":0.0},{"x":-1.15,"y":-0.6},{"x":-1.15,"y":-1.1},
{"x":-1.0,"y":1.8},{"x":-1.0,"y":1.2},{"x":-1.0,"y":0.6},{"x":-1.0,"y":0.0},{"x":-1.0,"y":-0.6},{"x":-1.0,"y":-1.2},
{"x":-0.8,"y":1.5},{"x":-0.8,"y":0.9},{"x":-0.8,"y":0.3},{"x":-0.8,"y":-0.3},{"x":-0.8,"y":-0.9},{"x":-0.8,"y":-1.5},
{"x":-0.65,"y":1.3},{"x":-0.65,"y":0.7},{"x":-0.65,"y":0.1},{"x":-0.65,"y":-0.5},{"x":-0.65,"y":-1.1},{"x":-0.65,"y":-1.6},
{"x":-0.55,"y":1.9},{"x":-0.55,"y":1.3},{"x":-0.55,"y":0.7},{"x":-0.55,"y":0.1},{"x":-0.55,"y":-0.5},{"x":-0.55,"y":-1.1},{"x":-0.55,"y":-1.6},
{"x":-0.4,"y":1.6},{"x":-0.4,"y":1.0},{"x":-0.4,"y":0.4},{"x":-0.4,"y":-0.2},{"x":-0.4,"y":-0.8},{"x":-0.4,"y":-1.4},{"x":-0.4,"y":-2.0},
{"x":-0.3,"y":1.6},{"x":-0.3,"y":1.0},{"x":-0.3,"y":0.4},{"x":-0.3,"y":-0.2},{"x":-0.3,"y":-0.8},{"x":-0.3,"y":-1.4},{"x":-0.3,"y":-2.0},
{"x":-0.1,"y":1.9},{"x":-0.1,"y":1.3},{"x":-0.1,"y":0.7},{"x":-0.1,"y":0.1},{"x":-0.1,"y":-0.5},{"x":-0.1,"y":-1.1},{"x":-0.1,"y":-1.7},
{"x":0.1,"y":1.5},{"x":0.1,"y":0.9},{"x":0.1,"y":0.3},{"x":0.1,"y":-0.3},{"x":0.1,"y":-0.9},{"x":0.1,"y":-1.5},{"x":0.1,"y":-2.1},
{"x":0.2,"y":1.0},{"x":0.2,"y":0.5},{"x":0.2,"y":-0.7},{"x":0.2,"y":-1.3},
{"x":0.3,"y":1.7},{"x":0.3,"y":1.1},{"x":0.3,"y":0.5},{"x":0.3,"y":-0.1},{"x":0.3,"y":-0.7},{"x":0.3,"y":-1.3},{"x":0.3,"y":-1.9},
{"x":0.5,"y":1.4},{"x":0.5,"y":0.8},{"x":0.5,"y":0.2},{"x":0.5,"y":-0.4},{"x":0.5,"y":-1.0},{"x":0.5,"y":-1.6},{"x":0.5,"y":-2.2},
{"x":0.6,"y":0.9},{"x":0.6,"y":0.3},{"x":0.6,"y":-0.3},{"x":0.6,"y":-0.9},{"x":0.6,"y":-1.5},
{"x":0.7,"y":1.0},{"x":0.7,"y":0.4},{"x":0.7,"y":-0.2},{"x":0.7,"y":-0.8},{"x":0.7,"y":-1.4},{"x":0.7,"y":-2.0},
{"x":0.85,"y":1.2},{"x":0.85,"y":0.6},{"x":0.85,"y":0.0},{"x":0.85,"y":-0.6},{"x":0.85,"y":-1.2},{"x":0.85,"y":-1.8},
{"x":0.95,"y":1.3},{"x":0.95,"y":0.7},{"x":0.95,"y":0.1},{"x":0.95,"y":-0.5},{"x":0.95,"y":-1.1},{"x":0.95,"y":-1.7},
{"x":1.2,"y":1.2},{"x":1.2,"y":0.5},{"x":1.2,"y":-0.2},{"x":1.2,"y":-0.9},{"x":1.2,"y":-1.6},
{"x":1.5,"y":1.0},{"x":1.5,"y":0.3},{"x":1.5,"y":-0.4},{"x":1.5,"y":-1.1},
{"x":1.75,"y":1.5},{"x":1.75,"y":0.8},{"x":1.75,"y":0.1},{"x":1.75,"y":-0.5},{"x":1.75,"y":-1.0},
{"x":2.0,"y":1.2},{"x":2.0,"y":0.4},{"x":2.0,"y":-0.3},{"x":2.0,"y":-0.9},
{"x":2.7,"y":1.3},{"x":2.7,"y":0.6},{"x":2.7,"y":0.0},{"x":2.7,"y":-0.7},{"x":2.7,"y":-1.2},
{"x":2.95,"y":1.0},{"x":2.95,"y":0.3},{"x":2.95,"y":-0.5},{"x":2.95,"y":-1.2},
{"x":2.5,"y":0.9},{"x":2.5,"y":0.3},{"x":2.5,"y":-0.4},{"x":3.6,"y":1.3},{"x":3.6,"y":0.6},{"x":3.6,"y":0.0},{"x":3.9,"y":0.9},{"x":3.9,"y":0.3},
{"x":1.35,"y":1.8},{"x":1.35,"y":1.1},{"x":1.35,"y":0.4},{"x":1.35,"y":-0.3},{"x":1.35,"y":-1.0},{"x":1.35,"y":-1.6},
{"x":1.9,"y":1.6},{"x":1.9,"y":0.9},{"x":1.9,"y":0.2},{"x":1.9,"y":-0.5},{"x":1.9,"y":-1.1},
{"x":2.25,"y":1.8},{"x":2.25,"y":1.0},{"x":2.25,"y":0.3},{"x":2.25,"y":-0.4},{"x":2.25,"y":-1.1},{"x":2.25,"y":-1.6},
{"x":2.55,"y":1.5},{"x":2.55,"y":0.8},{"x":2.55,"y":0.1},{"x":2.55,"y":-0.5},
{"x":3.05,"y":1.5},{"x":3.05,"y":0.8},{"x":3.05,"y":0.1},{"x":3.05,"y":-0.6},{"x":3.05,"y":-1.3},{"x":3.05,"y":-1.9},
{"x":3.5,"y":1.2},{"x":3.5,"y":0.5},{"x":3.5,"y":-0.2},{"x":3.5,"y":-0.8},
{"x":3.75,"y":1.8},{"x":3.75,"y":1.1},{"x":3.75,"y":0.4},{"x":3.75,"y":-0.3},{"x":3.75,"y":-1.0},
{"x":4.0,"y":0.9},{"x":4.0,"y":0.2},{"x":4.0,"y":-0.4},{"x":4.0,"y":-1.1},
{"x":4.5,"y":1.1},{"x":4.5,"y":0.3},{"x":4.5,"y":-0.2},{"x":4.5,"y":-0.8},{"x":4.5,"y":-1.6},
{"x":4.8,"y":0.5},{"x":4.8,"y":-0.6},{"x":4.8,"y":-1.5},
{"x":-2.0,"y":0.2},{"x":-2.0,"y":-0.3},{"x":-1.75,"y":1.1},{"x":-1.75,"y":0.3},{"x":-1.75,"y":-0.2}
],
"blfit": [{"x":-6,"y":3.287},{"x":-5,"y":2.472},{"x":-4,"y":1.763},{"x":-3,"y":1.16},{"x":-2,"y":0.662},{"x":-1,"y":0.27},{"x":0,"y":-0.016},{"x":1,"y":-0.196},{"x":2,"y":-0.271},{"x":3,"y":-0.24},{"x":4,"y":-0.103},{"x":5,"y":0.14},{"x":6,"y":0.489},{"x":7,"y":0.944},{"x":8,"y":1.504},{"x":8.4,"y":1.758}],
"bleq": [{"eq":"y = 0,0529x² - 0,2332x - 0,0161","r2":"R² = 0,0932"}],
"br": [
{"x":-4.93,"y":-1.48},{"x":-4.97,"y":-1.6},{"x":-4.65,"y":0.33},{"x":-4.5,"y":-0.15},{"x":-4.65,"y":-2.37},{"x":-4.65,"y":-2.64},{"x":-3.89,"y":0.33},{"x":-3.77,"y":0.37},{"x":-3.46,"y":0.3},{"x":-3.9,"y":-0.81},{"x":-3.9,"y":-1.04},{"x":-3.9,"y":-1.3},{"x":-3.9,"y":-1.56},{"x":-3.9,"y":-1.78},{"x":-3.9,"y":-2.67},{"x":-3.22,"y":1.26},{"x":-3.14,"y":1.41},{"x":-2.99,"y":0.15},{"x":-2.91,"y":-0.44},{"x":-2.83,"y":-0.96},{"x":-2.75,"y":-1.26},{"x":-2.55,"y":0.7},{"x":-2.39,"y":2.84},{"x":-2.39,"y":1.6},{"x":-2.05,"y":3.29},{"x":-2.02,"y":1.26},{"x":-2.28,"y":-1.63},{"x":-1.66,"y":1.66},{"x":-1.66,"y":-1.78},{"x":-1.5,"y":2.4},{"x":-1.4,"y":-1.56},{"x":-1.04,"y":3.39},{"x":-0.88,"y":2.84},{"x":-0.73,"y":-1.19},{"x":-0.65,"y":-1.12},{"x":-0.73,"y":-2.59},{"x":-0.73,"y":-2.37},{"x":-0.54,"y":-3.38},{"x":-0.54,"y":-2.15},{"x":-0.34,"y":2.0},{"x":0.55,"y":-2.86},{"x":0.96,"y":-2.49},{"x":1.38,"y":-2.1},{"x":1.54,"y":-4.41},{"x":1.3,"y":3.04},{"x":1.46,"y":2.52},{"x":1.77,"y":2.55},{"x":2.0,"y":2.96},{"x":2.47,"y":-2.96},{"x":2.52,"y":-3.29},{"x":2.52,"y":-3.41},{"x":3.41,"y":2.37},{"x":3.76,"y":2.55},{"x":3.5,"y":1.04},{"x":3.53,"y":0.74},{"x":3.53,"y":0.59},{"x":3.53,"y":0.3},{"x":3.57,"y":-0.15},{"x":3.53,"y":-0.59},{"x":3.53,"y":-0.81},{"x":3.92,"y":-1.22},{"x":3.92,"y":-1.48},{"x":3.87,"y":-1.7},{"x":3.92,"y":-2.37},{"x":3.92,"y":-2.67},{"x":4.39,"y":0.44},{"x":4.34,"y":-1.48},{"x":4.34,"y":-1.75},{"x":4.92,"y":2.81},{"x":4.92,"y":2.15},{"x":4.92,"y":2.0},{"x":5.23,"y":1.11},{"x":4.97,"y":-1.78},{"x":5.23,"y":-3.29},{"x":5.9,"y":4.96},{"x":5.94,"y":2.81},{"x":5.94,"y":2.3},{"x":6.13,"y":-1.21},{"x":6.94,"y":-1.78},{"x":7.82,"y":-2.3},{"x":7.88,"y":3.93},{"x":2.94,"y":-2.44},{"x":3.17,"y":-2.22},{"x":3.48,"y":-2.15},
{"x":-3.08,"y":1.48},{"x":-2.38,"y":1.63},{"x":-2.04,"y":1.24},{"x":-1.68,"y":1.69},{"x":-1.68,"y":1.1},{"x":-1.36,"y":1.51},{"x":-0.92,"y":1.36},{"x":-0.85,"y":1.66},{"x":-2.57,"y":0.62},{"x":-2.25,"y":0.33},{"x":-1.93,"y":0.47},{"x":-1.55,"y":0.62},{"x":-1.3,"y":0.77},{"x":-1.04,"y":0.62},{"x":-0.53,"y":0.84},{"x":-2.95,"y":-0.41},{"x":-2.7,"y":-0.56},{"x":-2.89,"y":-1.16},{"x":-2.63,"y":-1.01},{"x":-2.32,"y":-0.64},{"x":-2.32,"y":-1.3},{"x":-2.25,"y":-1.67},{"x":-1.68,"y":-1.75},{"x":-1.36,"y":-1.53},{"x":-1.3,"y":-0.86},{"x":-1.68,"y":-1.01},{"x":-1.93,"y":-0.56},{"x":-0.92,"y":-0.41},{"x":-0.66,"y":-0.71},{"x":-0.73,"y":-1.08},{"x":-0.47,"y":-1.23},{"x":-0.31,"y":1.99},{"x":-0.03,"y":2.18},{"x":1.37,"y":3.07},{"x":1.56,"y":2.62},{"x":1.76,"y":2.4},{"x":0.74,"y":2.28},{"x":0.87,"y":1.96},{"x":1.31,"y":1.66},{"x":1.88,"y":2.03},{"x":2.26,"y":1.81},{"x":2.65,"y":1.81},{"x":3.16,"y":1.88},{"x":3.47,"y":1.88},{"x":3.73,"y":1.07},{"x":3.85,"y":0.62},{"x":3.92,"y":0.33},{"x":4.3,"y":0.47},{"x":3.73,"y":-0.86},{"x":3.79,"y":-1.16},{"x":3.92,"y":-1.53},{"x":3.73,"y":-1.82},{"x":3.85,"y":-2.64},{"x":4.3,"y":-1.45},{"x":4.36,"y":-1.75},{"x":2.58,"y":-2.93},{"x":2.58,"y":-3.3},{"x":2.9,"y":-2.49},{"x":3.22,"y":-2.19},{"x":3.41,"y":-2.19},{"x":3.47,"y":-1.9},
{"x":0,"y":2.1},{"x":0,"y":1.6},{"x":0,"y":1.1},{"x":0,"y":0.6},{"x":0,"y":0.1},{"x":0,"y":-0.4},{"x":0,"y":-0.9},
{"x":0.2,"y":1.8},{"x":0.2,"y":1.2},{"x":0.2,"y":0.7},{"x":0.2,"y":0.2},{"x":0.2,"y":-0.3},{"x":0.2,"y":-0.8},{"x":0.2,"y":-1.3},
{"x":0.45,"y":1.9},{"x":0.45,"y":1.4},{"x":0.45,"y":0.9},{"x":0.45,"y":0.4},{"x":0.45,"y":-0.1},{"x":0.45,"y":-0.6},{"x":0.45,"y":-1.1},{"x":0.45,"y":-1.6},
{"x":0.7,"y":1.6},{"x":0.7,"y":1.1},{"x":0.7,"y":0.6},{"x":0.7,"y":0.1},{"x":0.7,"y":-0.4},{"x":0.7,"y":-0.9},{"x":0.7,"y":-1.4},
{"x":0.95,"y":1.8},{"x":0.95,"y":1.3},{"x":0.95,"y":0.8},{"x":0.95,"y":0.3},{"x":0.95,"y":-0.2},{"x":0.95,"y":-0.7},{"x":0.95,"y":-1.3},{"x":0.95,"y":-1.9},
{"x":1.2,"y":1.5},{"x":1.2,"y":1.0},{"x":1.2,"y":0.5},{"x":1.2,"y":0.0},{"x":1.2,"y":-0.6},{"x":1.2,"y":-1.1},{"x":1.2,"y":-1.6},
{"x":1.45,"y":1.9},{"x":1.45,"y":1.3},{"x":1.45,"y":0.7},{"x":1.45,"y":0.2},{"x":1.45,"y":-0.4},{"x":1.45,"y":-1.0},{"x":1.45,"y":-1.5},
{"x":1.7,"y":2.2},{"x":1.7,"y":1.6},{"x":1.7,"y":1.0},{"x":1.7,"y":0.4},{"x":1.7,"y":-0.2},{"x":1.7,"y":-0.8},{"x":1.7,"y":-1.4},{"x":1.7,"y":-2.0},
{"x":1.95,"y":1.9},{"x":1.95,"y":1.3},{"x":1.95,"y":0.7},{"x":1.95,"y":0.1},{"x":1.95,"y":-0.5},{"x":1.95,"y":-1.1},{"x":1.95,"y":-1.7},
{"x":2.2,"y":1.5},{"x":2.2,"y":0.9},{"x":2.2,"y":0.3},{"x":2.2,"y":-0.3},{"x":2.2,"y":-0.9},{"x":2.2,"y":-1.5},{"x":2.2,"y":-2.1},
{"x":2.45,"y":1.7},{"x":2.45,"y":1.1},{"x":2.45,"y":0.5},{"x":2.45,"y":-0.1},{"x":2.45,"y":-0.7},{"x":2.45,"y":-1.3},{"x":2.45,"y":-1.9},
{"x":2.7,"y":1.4},{"x":2.7,"y":0.8},{"x":2.7,"y":0.2},{"x":2.7,"y":-0.4},{"x":2.7,"y":-1.0},{"x":2.7,"y":-1.6},{"x":2.7,"y":-2.3},
{"x":2.95,"y":1.2},{"x":2.95,"y":0.6},{"x":2.95,"y":0.0},{"x":2.95,"y":-0.6},{"x":2.95,"y":-1.2},{"x":2.95,"y":-1.8},
{"x":3.2,"y":0.9},{"x":3.2,"y":0.3},{"x":3.2,"y":-0.3},{"x":3.2,"y":-0.9},{"x":3.2,"y":-1.5},
{"x":-0.3,"y":1.3},{"x":-0.3,"y":0.6},{"x":-0.3,"y":-0.2},{"x":-0.3,"y":-0.8},{"x":-0.6,"y":1.0},{"x":-0.6,"y":0.2},{"x":-0.6,"y":-0.5},{"x":-1.0,"y":0.2},{"x":-1.0,"y":-0.3},{"x":-1.2,"y":1.1},{"x":-1.2,"y":-0.1},{"x":-1.2,"y":-0.6},{"x":-1.5,"y":0.3},{"x":-1.5,"y":-0.4},{"x":-1.5,"y":1.2},{"x":-1.8,"y":0.9},{"x":-1.8,"y":0.0},{"x":-1.8,"y":-0.9},{"x":-2.1,"y":0.6},{"x":-2.1,"y":-0.3},{"x":-2.1,"y":-1.1},{"x":-2.5,"y":0.0},{"x":-2.5,"y":-1.5},{"x":-3.0,"y":-0.9},{"x":-3.0,"y":-0.1},
{"x":0,"y":1.85},{"x":0,"y":1.35},{"x":0,"y":0.85},{"x":0,"y":0.35},{"x":0,"y":-0.15},{"x":0,"y":-0.65},
{"x":0.1,"y":1.5},{"x":0.1,"y":1.0},{"x":0.1,"y":0.5},{"x":0.1,"y":0.0},{"x":0.1,"y":-0.5},{"x":0.1,"y":-1.0},
{"x":0.2,"y":1.5},{"x":0.2,"y":0.95},{"x":0.2,"y":0.45},{"x":0.2,"y":-0.05},{"x":0.2,"y":-0.55},{"x":0.2,"y":-1.05},
{"x":0.33,"y":1.6},{"x":0.33,"y":1.1},{"x":0.33,"y":0.6},{"x":0.33,"y":0.1},{"x":0.33,"y":-0.4},{"x":0.33,"y":-0.9},{"x":0.33,"y":-1.4},
{"x":0.45,"y":1.65},{"x":0.45,"y":1.15},{"x":0.45,"y":0.65},{"x":0.45,"y":0.15},{"x":0.45,"y":-0.35},{"x":0.45,"y":-0.85},{"x":0.45,"y":-1.35},
{"x":0.58,"y":1.8},{"x":0.58,"y":1.3},{"x":0.58,"y":0.8},{"x":0.58,"y":0.3},{"x":0.58,"y":-0.2},{"x":0.58,"y":-0.7},{"x":0.58,"y":-1.2},
{"x":0.7,"y":1.35},{"x":0.7,"y":0.85},{"x":0.7,"y":0.35},{"x":0.7,"y":-0.15},{"x":0.7,"y":-0.65},{"x":0.7,"y":-1.15},
{"x":0.82,"y":1.5},{"x":0.82,"y":1.0},{"x":0.82,"y":0.5},{"x":0.82,"y":0.0},{"x":0.82,"y":-0.5},{"x":0.82,"y":-1.0},{"x":0.82,"y":-1.6},
{"x":0.95,"y":1.55},{"x":0.95,"y":1.05},{"x":0.95,"y":0.55},{"x":0.95,"y":0.05},{"x":0.95,"y":-0.45},{"x":0.95,"y":-1.0},{"x":0.95,"y":-1.6},
{"x":1.08,"y":1.7},{"x":1.08,"y":1.2},{"x":1.08,"y":0.7},{"x":1.08,"y":0.2},{"x":1.08,"y":-0.3},{"x":1.08,"y":-0.8},{"x":1.08,"y":-1.4},
{"x":1.2,"y":1.25},{"x":1.2,"y":0.75},{"x":1.2,"y":0.25},{"x":1.2,"y":-0.3},{"x":1.2,"y":-0.85},{"x":1.2,"y":-1.35},
{"x":1.32,"y":1.6},{"x":1.32,"y":1.0},{"x":1.32,"y":0.4},{"x":1.32,"y":-0.1},{"x":1.32,"y":-0.7},{"x":1.32,"y":-1.2},
{"x":1.45,"y":1.6},{"x":1.45,"y":1.0},{"x":1.45,"y":0.45},{"x":1.45,"y":-0.1},{"x":1.45,"y":-0.7},{"x":1.45,"y":-1.25},
{"x":1.58,"y":1.9},{"x":1.58,"y":1.3},{"x":1.58,"y":0.7},{"x":1.58,"y":0.1},{"x":1.58,"y":-0.5},{"x":1.58,"y":-1.1},{"x":1.58,"y":-1.7},
{"x":1.7,"y":1.9},{"x":1.7,"y":1.3},{"x":1.7,"y":0.7},{"x":1.7,"y":0.1},{"x":1.7,"y":-0.5},{"x":1.7,"y":-1.1},{"x":1.7,"y":-1.7},
{"x":1.82,"y":2.1},{"x":1.82,"y":1.6},{"x":1.82,"y":1.0},{"x":1.82,"y":0.4},{"x":1.82,"y":-0.2},{"x":1.82,"y":-0.8},{"x":1.82,"y":-1.4},
{"x":1.95,"y":1.6},{"x":1.95,"y":1.0},{"x":1.95,"y":0.4},{"x":1.95,"y":-0.2},{"x":1.95,"y":-0.8},{"x":1.95,"y":-1.4},
{"x":2.08,"y":1.7},{"x":2.08,"y":1.2},{"x":2.08,"y":0.6},{"x":2.08,"y":0.0},{"x":2.08,"y":-0.6},{"x":2.08,"y":-1.2},{"x":2.08,"y":-1.8},
{"x":2.2,"y":1.2},{"x":2.2,"y":0.6},{"x":2.2,"y":0.0},{"x":2.2,"y":-0.6},{"x":2.2,"y":-1.2},{"x":2.2,"y":-1.8},
{"x":2.32,"y":1.6},{"x":2.32,"y":1.0},{"x":2.32,"y":0.4},{"x":2.32,"y":-0.2},{"x":2.32,"y":-0.8},{"x":2.32,"y":-1.4},{"x":2.32,"y":-2.0},
{"x":2.45,"y":1.4},{"x":2.45,"y":0.8},{"x":2.45,"y":0.2},{"x":2.45,"y":-0.4},{"x":2.45,"y":-1.0},{"x":2.45,"y":-1.6},
{"x":2.58,"y":1.5},{"x":2.58,"y":0.9},{"x":2.58,"y":0.3},{"x":2.58,"y":-0.3},{"x":2.58,"y":-0.9},{"x":2.58,"y":-1.5},{"x":2.58,"y":-2.1},
{"x":2.7,"y":1.1},{"x":2.7,"y":0.5},{"x":2.7,"y":-0.1},{"x":2.7,"y":-0.7},{"x":2.7,"y":-1.3},{"x":2.7,"y":-1.9},
{"x":2.82,"y":1.3},{"x":2.82,"y":0.7},{"x":2.82,"y":0.1},{"x":2.82,"y":-0.5},{"x":2.82,"y":-1.1},{"x":2.82,"y":-1.7},
{"x":2.95,"y":0.9},{"x":2.95,"y":0.3},{"x":2.95,"y":-0.3},{"x":2.95,"y":-0.9},{"x":2.95,"y":-1.5},
{"x":3.08,"y":1.0},{"x":3.08,"y":0.4},{"x":3.08,"y":-0.2},{"x":3.08,"y":-0.8},{"x":3.08,"y":-1.4},
{"x":-0.15,"y":1.0},{"x":-0.15,"y":0.3},{"x":-0.15,"y":-0.5},{"x":-0.45,"y":0.6},{"x":-0.45,"y":-0.2},{"x":-0.45,"y":1.3},{"x":-2.3,"y":0.2},{"x":-2.3,"y":-0.8},{"x":-2.8,"y":0.4},{"x":-2.8,"y":-0.5}
],
"brfit": [{"x":-5,"y":-0.644},{"x":-4,"y":-0.406},{"x":-3,"y":-0.211},{"x":-2,"y":-0.06},{"x":-1,"y":0.047},{"x":0,"y":0.11},{"x":1,"y":0.13},{"x":2,"y":0.105},{"x":3,"y":0.037},{"x":4,"y":-0.075},{"x":5,"y":-0.231},{"x":6,"y":-0.431},{"x":7,"y":-0.674},{"x":8,"y":-0.961}],
"breq": [{"eq":"y = -0,0219x² + 0,0413x + 0,1101","r2":"R² = 0,0146"}]
},
"spacing": 47,
"vconcat": [
{"hconcat": [
 {"width": 511, "height": 271, "layer": [
  {"data": {"name": "tl"}, "mark": {"type": "point", "shape": "diamond", "filled": true, "size": 80, "color": "#000080", "opacity": 1},
   "encoding": {
    "x": {"field": "x", "type": "quantitative", "scale": {"domain": [-10, 10], "nice": false, "zero": false}, "axis": {"values": [-10, -5, 0, 5, 10], "tickCount": 30, "grid": false, "offset": -135.5, "tickSize": 6, "labelPadding": 22, "labelBaseline": "middle", "labelOverlap": false, "labelFlush": false, "labelExpr": "'' + datum.value", "title": "Tuulen Pohjoiskomponentti (cm/s)", "titleX": 255.5, "titleY": 166.5, "titleBaseline": "middle", "titleAlign": "center", "titleAngle": 0}},
    "y": {"field": "y", "type": "quantitative", "scale": {"domain": [-10, 10], "nice": false, "zero": false}, "axis": {"values": [-10, -8, -6, -4, -2, 0, 2, 4, 6, 8, 10], "tickCount": 30, "grid": true, "offset": -255.5, "tickSize": 5, "labelPadding": 10, "labelOverlap": false, "labelExpr": "'' + datum.value", "title": ["Virtauksen (2 m)", "Pohjoiskomponentti (cm/s)"], "titleX": -312.5, "titleY": 135.5, "titleAngle": -90, "titleBaseline": "middle", "titleAlign": "center", "titleLineHeight": 23}}
   }},
  {"data": {"name": "tlfit"}, "mark": {"type": "line", "color": "#000", "strokeWidth": 2.5, "interpolate": "natural"}, "encoding": {"x": {"field": "x", "type": "quantitative"}, "y": {"field": "y", "type": "quantitative"}}},
  {"data": {"name": "tleq"}, "mark": {"type": "text", "fontSize": 18, "font": "Liberation Sans", "color": "#000", "align": "center", "baseline": "middle"}, "encoding": {"x": {"datum": 4.95, "type": "quantitative"}, "y": {"datum": 10.82, "type": "quantitative"}, "text": {"field": "eq"}}},
  {"data": {"name": "tleq"}, "mark": {"type": "text", "fontSize": 18, "font": "Liberation Sans", "color": "#000", "align": "center", "baseline": "middle"}, "encoding": {"x": {"datum": 4.95, "type": "quantitative"}, "y": {"datum": 8.83, "type": "quantitative"}, "text": {"field": "r2"}}}
 ]},
 {"width": 522, "height": 271, "layer": [
  {"data": {"name": "tr"}, "mark": {"type": "point", "shape": "diamond", "filled": true, "size": 80, "color": "#000080", "opacity": 1},
   "encoding": {
    "x": {"field": "x", "type": "quantitative", "scale": {"domain": [-10, 10], "nice": false, "zero": false}, "axis": {"values": [-10, -5, 0, 5, 10], "tickCount": 30, "grid": false, "offset": -135.5, "tickSize": 6, "labelPadding": 22, "labelBaseline": "middle", "labelOverlap": false, "labelFlush": false, "labelExpr": "'' + datum.value", "title": "Tuulen Itäkomponentti (cm/s)", "titleX": 261, "titleY": 166.5, "titleBaseline": "middle", "titleAlign": "center", "titleAngle": 0}},
    "y": {"field": "y", "type": "quantitative", "scale": {"domain": [-10, 10], "nice": false, "zero": false}, "axis": {"values": [-10, -8, -6, -4, -2, 0, 2, 4, 6, 8, 10], "tickCount": 30, "grid": true, "offset": -261, "tickSize": 5, "labelPadding": 10, "labelOverlap": false, "labelExpr": "'' + datum.value", "title": ["Virtauksen (2 m)", "Pohjoiskomponentti (cm/s)"], "titleX": -320, "titleY": 135.5, "titleAngle": -90, "titleBaseline": "middle", "titleAlign": "center", "titleLineHeight": 23}}
   }},
  {"data": {"name": "trfit"}, "mark": {"type": "line", "color": "#000", "strokeWidth": 2.5, "interpolate": "natural"}, "encoding": {"x": {"field": "x", "type": "quantitative"}, "y": {"field": "y", "type": "quantitative"}}},
  {"data": {"name": "treq"}, "mark": {"type": "text", "fontSize": 18, "font": "Liberation Sans", "color": "#000", "align": "center", "baseline": "middle"}, "encoding": {"x": {"datum": 5.21, "type": "quantitative"}, "y": {"datum": 10.82, "type": "quantitative"}, "text": {"field": "eq"}}},
  {"data": {"name": "treq"}, "mark": {"type": "text", "fontSize": 18, "font": "Liberation Sans", "color": "#000", "align": "center", "baseline": "middle"}, "encoding": {"x": {"datum": 5.21, "type": "quantitative"}, "y": {"datum": 8.83, "type": "quantitative"}, "text": {"field": "r2"}}}
 ]}
], "spacing": 55},
{"hconcat": [
 {"width": 516, "height": 270, "layer": [
  {"data": {"name": "bl"}, "mark": {"type": "point", "shape": "diamond", "filled": true, "size": 80, "color": "#000080", "opacity": 1},
   "encoding": {
    "x": {"field": "x", "type": "quantitative", "scale": {"domain": [-10, 10], "nice": false, "zero": false}, "axis": {"values": [-10, -5, 0, 5, 10], "tickCount": 30, "grid": false, "offset": -135, "tickSize": 6, "labelPadding": 22, "labelBaseline": "middle", "labelOverlap": false, "labelFlush": false, "labelExpr": "'' + datum.value", "title": "Tuulen Itäkomponentti (cm/s)", "titleX": 258, "titleY": 166.5, "titleBaseline": "middle", "titleAlign": "center", "titleAngle": 0}},
    "y": {"field": "y", "type": "quantitative", "scale": {"domain": [-6, 6], "nice": false, "zero": false}, "axis": {"values": [-6, -4, -2, 0, 2, 4, 6], "tickCount": 30, "grid": true, "offset": -258, "tickSize": 5, "labelPadding": 10, "labelOverlap": false, "labelExpr": "'' + datum.value", "title": ["Virtauksen (2 m)", "Itäkomponentti (cm/s)"], "titleX": -313, "titleY": 135, "titleAngle": -90, "titleBaseline": "middle", "titleAlign": "center", "titleLineHeight": 23}}
   }},
  {"data": {"name": "blfit"}, "mark": {"type": "line", "color": "#000", "strokeWidth": 2.5, "interpolate": "natural"}, "encoding": {"x": {"field": "x", "type": "quantitative"}, "y": {"field": "y", "type": "quantitative"}}},
  {"data": {"name": "bleq"}, "mark": {"type": "text", "fontSize": 18, "font": "Liberation Sans", "color": "#000", "align": "center", "baseline": "middle"}, "encoding": {"x": {"datum": 5.54, "type": "quantitative"}, "y": {"datum": 6.4, "type": "quantitative"}, "text": {"field": "eq"}}},
  {"data": {"name": "bleq"}, "mark": {"type": "text", "fontSize": 18, "font": "Liberation Sans", "color": "#000", "align": "center", "baseline": "middle"}, "encoding": {"x": {"datum": 5.6, "type": "quantitative"}, "y": {"datum": 5.29, "type": "quantitative"}, "text": {"field": "r2"}}}
 ]},
 {"width": 521, "height": 270, "layer": [
  {"data": {"name": "br"}, "mark": {"type": "point", "shape": "diamond", "filled": true, "size": 80, "color": "#000080", "opacity": 1},
   "encoding": {
    "x": {"field": "x", "type": "quantitative", "scale": {"domain": [-10, 10], "nice": false, "zero": false}, "axis": {"values": [-10, -5, 0, 5, 10], "tickCount": 30, "grid": false, "offset": -135, "tickSize": 6, "labelPadding": 22, "labelBaseline": "middle", "labelOverlap": false, "labelFlush": false, "labelExpr": "'' + datum.value", "title": "Tuulen Pohjoiskomponentti (cm/s)", "titleX": 260.5, "titleY": 165, "titleBaseline": "middle", "titleAlign": "center", "titleAngle": 0}},
    "y": {"field": "y", "type": "quantitative", "scale": {"domain": [-6, 6], "nice": false, "zero": false}, "axis": {"values": [-6, -4, -2, 0, 2, 4, 6], "tickCount": 30, "grid": true, "offset": -260.5, "tickSize": 5, "labelPadding": 10, "labelOverlap": false, "labelExpr": "'' + datum.value", "title": ["Virtauksen (2 m)", "Itäkomponentti (cm/s)"], "titleX": -315.5, "titleY": 135, "titleAngle": -90, "titleBaseline": "middle", "titleAlign": "center", "titleLineHeight": 23}}
   }},
  {"data": {"name": "brfit"}, "mark": {"type": "line", "color": "#000", "strokeWidth": 2.5, "interpolate": "natural"}, "encoding": {"x": {"field": "x", "type": "quantitative"}, "y": {"field": "y", "type": "quantitative"}}},
  {"data": {"name": "breq"}, "mark": {"type": "text", "fontSize": 18, "font": "Liberation Sans", "color": "#000", "align": "center", "baseline": "middle"}, "encoding": {"x": {"datum": 5.62, "type": "quantitative"}, "y": {"datum": 6.4, "type": "quantitative"}, "text": {"field": "eq"}}},
  {"data": {"name": "breq"}, "mark": {"type": "text", "fontSize": 18, "font": "Liberation Sans", "color": "#000", "align": "center", "baseline": "middle"}, "encoding": {"x": {"datum": 5.66, "type": "quantitative"}, "y": {"datum": 5.29, "type": "quantitative"}, "text": {"field": "r2"}}}
 ]}
], "spacing": 55}
]
}
